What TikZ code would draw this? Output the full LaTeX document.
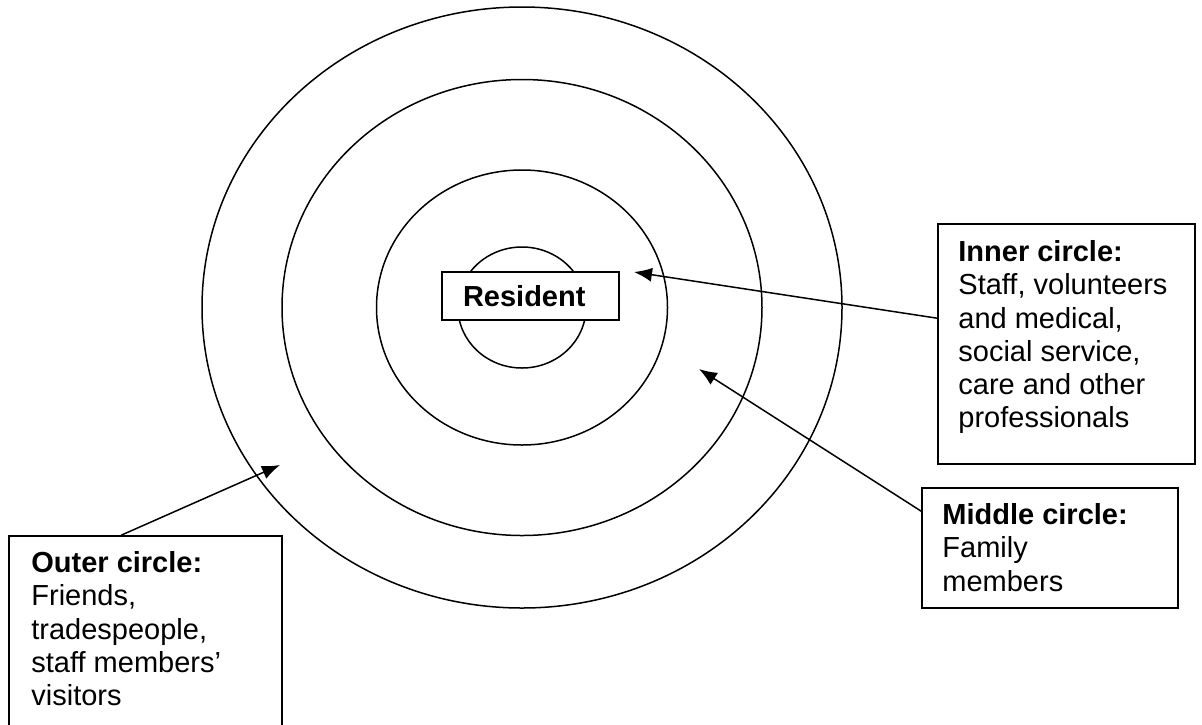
\documentclass[tikz,border=0pt]{standalone}
\usepackage{fontspec}
\setmainfont{Liberation Sans}
\usetikzlibrary{arrows.meta}

\begin{document}
\begin{tikzpicture}[x=1pt,y=-1pt]
        \tikzstyle{ring}=[draw, line width=1.5pt]
        \tikzstyle{box}=[draw, fill=white, line width=1.6pt, inner sep=0pt]
        \tikzstyle{note}=[anchor=north west, inner sep=0pt, align=left, font=\fontsize{29}{33.3}\selectfont]
        \tikzstyle{pointer}=[draw, line width=1.5pt, -{Latex[length=18pt,width=14pt]}]
        \clip (0,0) rectangle (1202,724);

        % the four rings round the resident
        \coordinate (ctr) at (522,307.5);
        \foreach \rx/\ry in {320/300.5, 240/228, 145.5/137.5, 64/60.5}
            \path[ring] (ctr) ellipse [x radius=\rx pt, y radius=\ry pt];

        \node [box, minimum width=177pt, minimum height=48pt, text width=135pt, align=left, font=\bfseries\fontsize{29}{33.3}\selectfont] (resident) at (530.5,296) {Resident};

        % labels
        \node [box, minimum width=257pt, minimum height=240pt] (inner) at (1066.5,344) {};
        \node [note] (innertxt) at ([xshift=21pt,yshift=-17pt]inner.north west) {\textbf{Inner circle:}\\Staff, volunteers\\and medical,\\social service,\\care and other\\professionals};

        \node [box, minimum width=256pt, minimum height=120pt] (middle) at (1050,548) {};
        \node [note] (middletxt) at ([xshift=21pt,yshift=-16pt]middle.north west) {\textbf{Middle circle:}\\Family\\members};

        \node [box, minimum width=273pt, minimum height=244pt] (outer) at (145.5,658) {};
        \node [note] (outertxt) at ([xshift=23pt,yshift=-16pt]outer.north west) {\textbf{Outer circle:}\\Friends,\\tradespeople,\\staff members'\\visitors};

        % pointers
        \coordinate (innertip) at (634,272);
        \coordinate (middletip) at (699,369);
        \coordinate (outertip) at (280,465);
        \path[pointer] ([yshift=-95pt]inner.north west) -- (innertip);
        \path[pointer] ([yshift=-24pt]middle.north west) -- (middletip);
        \path[pointer] ([xshift=113pt]outer.north west) -- (outertip);
\end{tikzpicture}
\end{document}
